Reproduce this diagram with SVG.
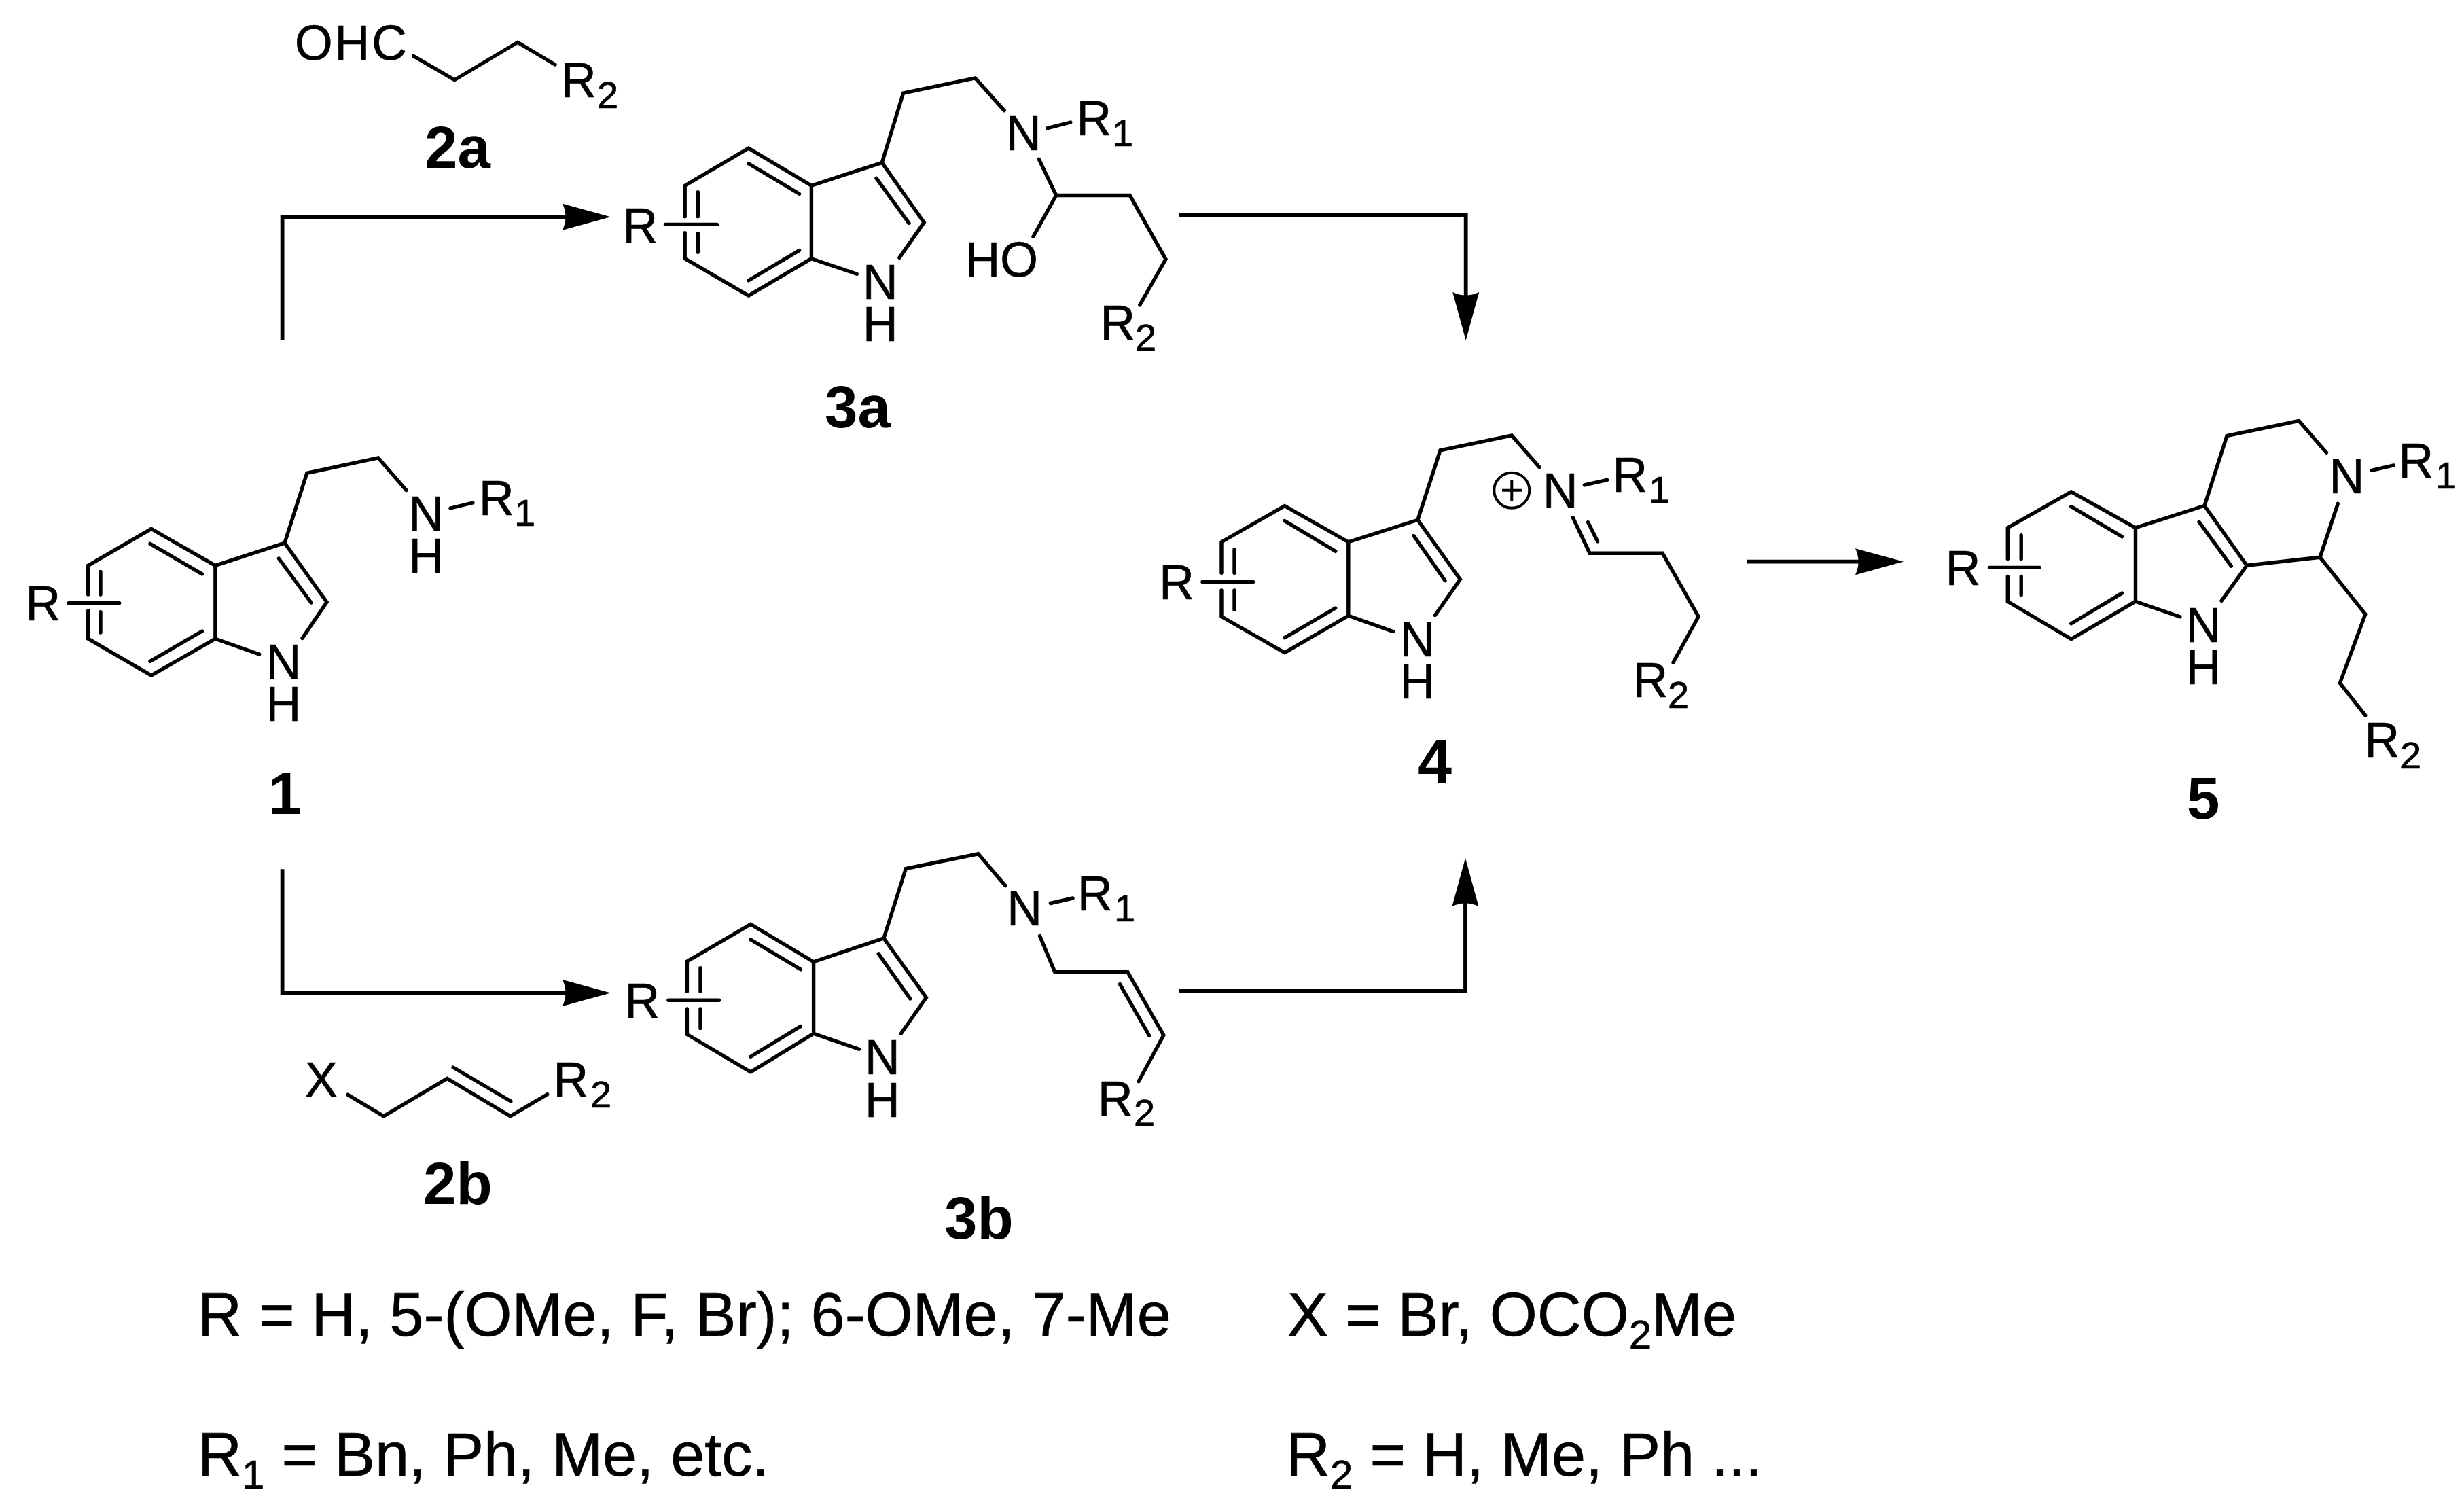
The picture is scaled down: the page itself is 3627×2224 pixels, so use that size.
<svg xmlns="http://www.w3.org/2000/svg" width="3627" height="2224" viewBox="0 0 3627 2224">
<style>
text{font-family:"Liberation Sans",Arial,sans-serif;fill:#000}
.a{font-size:71.5px;stroke:#000;stroke-width:.7px}
.s{font-size:56px}
.l{font-size:87px;font-weight:bold}
.n{font-size:90px;stroke:#000;stroke-width:.7px}
.ns{font-size:60px}
.b{fill:none;stroke:#000;stroke-width:5.4;stroke-linecap:round;stroke-linejoin:miter}
.c{fill:none;stroke:#000;stroke-width:5.8;stroke-linejoin:miter}
</style>
<defs>
<marker id="head" markerUnits="userSpaceOnUse" markerWidth="72" markerHeight="42" viewBox="0 0 72 42" refX="12" refY="21" orient="auto">
<path d="M71,21 L0,1.5 Q9,21 0,40.5 Z" fill="#000"/>
</marker>
</defs>
<rect width="3627" height="2224" fill="#fff"/>
<g id="connectors">
<path class="c" marker-end="url(#head)" d="M415.6,500 V319.3 H840"/>
<path class="c" marker-end="url(#head)" d="M415.6,1279.3 V1461.4 H840"/>
<path class="c" marker-end="url(#head)" d="M1735.8,316.7 H2157.7 V442"/>
<path class="c" marker-end="url(#head)" d="M1735.8,1458.3 H2157 V1322"/>
<path class="c" marker-end="url(#head)" d="M2571.6,826.7 H2743"/>
</g>
<g id="node-2a">
<path class="b" d="M608.5,82.3 L669,117.7 L762,62.3 L817,95"/>
<text class="a" x="434" y="88" letter-spacing="3">OHC</text>
<text class="a" x="826" y="142.7">R<tspan class="s" x="879" y="159.3">2</tspan></text>
<text class="l" x="625" y="247.3">2a</text>
</g>
<g id="node-2b">
<path class="b" d="M512,1611.4 L564.8,1642.9 L658.2,1587.5 L751.2,1642.9 L805.6,1610.7 M667,1571 L752,1621"/>
<text class="a" x="449" y="1614.3">X</text>
<text class="a" x="814.5" y="1614.3">R<tspan class="s" x="869" y="1630">2</tspan></text>
<text class="l" x="623" y="1772">2b</text>
</g>
<g id="node-1">
<path class="b" d="M129.7,875 V832.4 L222.7,778.4 L316.9,832.4 V940.2 L222.7,994.2 L129.7,940.2 V899 M221,800.4 L297.4,844.8 M221,973.4 L297.4,929 M148,841.5 V875 M148,900.8 V931 M101,887.6 H175.7 M316.9,832.4 L419,799.2 L481,886.3 L445,939.4 M316.9,940.2 L381.7,963 M410.4,822 L458,887 M419,799.2 L451.8,696.3 L556.8,673.9 L598,721.6 M663,748 L696,740"/>
<text class="a" x="37.5" y="913.3">R</text>
<text class="a" x="601.5" y="780.5">N</text>
<text class="a" x="601.5" y="842.7">H</text>
<text class="a" x="705" y="757.7">R<tspan class="s" x="757" y="774">1</tspan></text>
<text class="a" x="391.5" y="999">N</text>
<text class="a" x="391.5" y="1061.4">H</text>
<text class="l" x="395" y="1197.5">1</text>
</g>
<g id="node-3a">
<path class="b" d="M1008.2,318.7 V273.2 L1101.9,218.1 L1194.4,273.2 V380.7 L1101.9,435 L1008.2,380.7 V342.6 M1101.9,240.7 L1176.5,285.3 M1101.9,412.8 L1176.5,368.6 M1027.3,282.7 V318.7 M1027.3,343.4 V371.2 M979.5,330.4 H1055.4 M1194.4,273.2 L1298.3,239.4 L1360.2,327.4 L1323.9,379.4 M1194.4,380.7 L1261.3,403.3 M1290,262.4 L1337.9,328.3 M1298.3,239.4 L1329.6,137 L1435.5,114.9 L1478.2,162.6 M1542,188.6 L1575.8,180 M1529.2,234.2 L1554.7,287.5 H1663.1 L1716,381.6 L1677.8,448.8 M1554.7,287.5 L1521,348.2"/>
<text class="a" x="916.5" y="356.5">R</text>
<text class="a" x="1481" y="221">N</text>
<text class="a" x="1584.5" y="198.6">R<tspan class="s" x="1637" y="214.7">1</tspan></text>
<text class="a" x="1269.9" y="440">N</text>
<text class="a" x="1269.9" y="502">H</text>
<text class="a" x="1420.5" y="406.8">HO</text>
<text class="a" x="1619.5" y="499.6">R<tspan class="s" x="1671" y="516">2</tspan></text>
<text class="l" x="1214" y="628.8">3a</text>
</g>
<g id="node-3b">
<path class="b" d="M1011.4,1459.2 V1415 L1105,1360.4 L1197.6,1415.7 V1521.3 L1105,1577.8 L1011.4,1522.5 V1485 M1105,1383 L1178.4,1426.8 M1105,1555.3 L1178.4,1510.6 M1031,1424.8 V1459.2 M1031,1485 V1513.4 M983.9,1472.3 H1058.5 M1197.6,1415.7 L1300.9,1381 L1363.4,1468.3 L1326.4,1521.3 M1197.6,1521.3 L1264.5,1544.2 M1293.2,1403.9 L1339.8,1470 M1300.9,1381 L1333.4,1278.5 L1440,1256.8 L1480,1303.8 M1546.4,1329.5 L1579,1322 M1530.5,1377.4 L1552.8,1430.8 H1660 L1712.9,1523.7 L1676,1591.7 M1648.5,1448.6 L1691.8,1524.5"/>
<text class="a" x="919.5" y="1498">R</text>
<text class="a" x="1482.3" y="1362.3">N</text>
<text class="a" x="1586" y="1339.8">R<tspan class="s" x="1640" y="1356.4">1</tspan></text>
<text class="a" x="1273" y="1581.4">N</text>
<text class="a" x="1273" y="1644.3">H</text>
<text class="a" x="1616" y="1642.3">R<tspan class="s" x="1669" y="1657">2</tspan></text>
<text class="l" x="1390" y="1823">3b</text>
</g>
<g id="node-4">
<path class="b" d="M1798,843.3 V797.7 L1891,744.6 L1984.8,797.7 V906.3 L1891,960.6 L1798,907.5 V869 M1891,766.6 L1965.7,811.3 M1891,938.6 L1965.7,895 M1817,808.9 V843.3 M1817,869 V897.2 M1770,856.5 H1844.5 M1984.8,797.7 L2086.9,765.3 L2149.4,852.8 L2112.4,905.5 M1984.8,906.3 L2050.5,929.5 M2081,788.5 L2127,854.5 M2086.9,765.3 L2120,662.9 L2225.3,640.9 L2266,687.8 M2332.4,713.9 L2365.6,706.4 M2315.2,761.6 L2340,814.2 H2447.2 L2500.1,907.5 L2463,975 M2337.5,768.6 L2351.5,796.8"/>
<circle cx="2225.3" cy="721.8" r="26" fill="none" stroke="#000" stroke-width="4"/>
<path d="M2211,721.8 H2240 M2225.3,706 V738" fill="none" stroke="#000" stroke-width="4"/>
<text class="a" x="1706.3" y="881.8">R</text>
<text class="a" x="2270.9" y="747">N</text>
<text class="a" x="2373.5" y="724.3">R<tspan class="s" x="2427" y="739.6">1</tspan></text>
<text class="a" x="2060.4" y="966.4">N</text>
<text class="a" x="2060.4" y="1027.8">H</text>
<text class="a" x="2403.5" y="1026">R<tspan class="s" x="2455" y="1042.3">2</tspan></text>
<text class="l" x="2087" y="1152" font-size="90" style="font-size:90px">4</text>
</g>
<g id="node-5">
<path class="b" d="M2955.3,822.4 V776.8 L3048.8,723.9 L3143.5,776.8 V885.2 L3048.8,940.7 L2955.3,885.2 V848.4 M3048.8,745.6 L3123.5,789.8 M3048.8,917.8 L3123.5,873.1 M2975.2,787.7 V822.4 M2975.2,848.4 V875.7 M2928.5,835.4 H3002 M3143.5,776.8 L3245,744.3 L3307.3,832.3 L3270,884.4 M3143.5,885.2 L3208.9,907.8 M3237,768.2 L3284.3,833.2 M3245,744.3 L3278,641.5 L3384,619.4 L3424.5,666.2 M3441.3,741.3 L3415.1,820.2 L3307.3,832.3 M3491,692.3 L3523.5,684.9 M3415.1,820.2 L3481.8,903.9 L3444.4,1005.4 L3481.8,1053"/>
<text class="a" x="2863.7" y="860.5">R</text>
<text class="a" x="3428.4" y="726.1">N</text>
<text class="a" x="3530.4" y="703">R<tspan class="s" x="3585" y="719">1</tspan></text>
<text class="a" x="3217.8" y="945">N</text>
<text class="a" x="3217.8" y="1006.7">H</text>
<text class="a" x="3480.4" y="1114.2">R<tspan class="s" x="3533" y="1131">2</tspan></text>
<text class="l" x="3219" y="1205.3">5</text>
</g>
<g id="legend">
<text class="n" x="291" y="1966">R = H, 5-(OMe, F, Br); 6-OMe, 7-Me</text>
<text class="n" x="1895" y="1966">X = Br, OCO<tspan class="ns" y="1985">2</tspan><tspan y="1966">Me</tspan></text>
<text class="n" x="291" y="2171.7">R<tspan class="ns" y="2191">1</tspan><tspan y="2171.7"> = Bn, Ph, Me, etc.</tspan></text>
<text class="n" x="1893" y="2171.7">R<tspan class="ns" y="2191">2</tspan><tspan y="2171.7"> = H, Me, Ph ...</tspan></text>
</g>
</svg>
